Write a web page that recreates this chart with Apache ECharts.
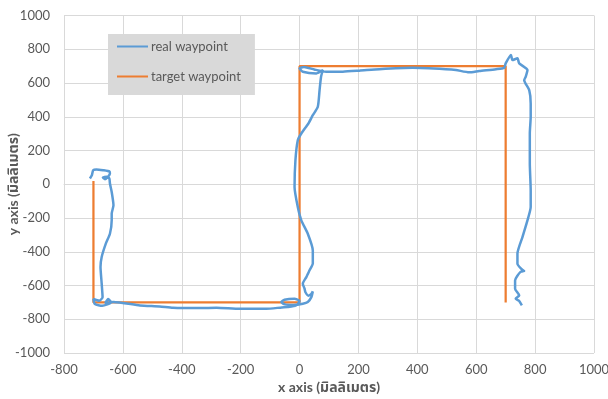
<!DOCTYPE html>
<html>
<head>
<meta charset="utf-8">
<script src="https://cdn.jsdelivr.net/npm/echarts@6/dist/echarts.min.js"></script>
<style>html,body{margin:0;padding:0;background:#fff}#c{width:608px;height:399px}</style>
</head>
<body>
<div id="c"></div>
<script>
const realX = [-712,-705,-701,-690,-667,-645,-644,-650,-661,-668,-655,-646,-644,-638,-632,-638,-638,-644,-658,-672,-676,-672,-669,-680,-700,-695,-670,-640,-650,-660,-632,-542,-475,-430,-339,-282,-203,-113,-60,-40,-11,0,-17,-51,-62,-50,-20,11,28,40,45,40,30,20,17,11,23,34,45,45,28,6,-6,-17,-14,-6,6,30,45,62,68,73,79,57,11,0,15,50,90,147,203,271,384,497,531,576,610,667,695,700,718,723,740,746,774,768,763,780,785,785,782,782,785,785,774,757,740,740,755,763,750,732,732,746,734,745,755];
const realY = [34,55,83,88,83,75,63,45,30,40,45,34,4,-46,-125,-174,-214,-293,-352,-431,-491,-589,-669,-690,-680,-710,-720,-700,-680,-705,-698,-718,-724,-732,-734,-732,-738,-738,-730,-728,-718,-692,-678,-684,-698,-712,-715,-708,-698,-669,-635,-650,-660,-640,-619,-589,-550,-510,-470,-392,-293,-214,-135,-16,142,261,301,360,409,459,558,637,677,657,667,687,695,680,667,667,673,682,690,682,677,663,671,682,690,716,766,736,746,716,677,637,617,558,479,400,301,123,-36,-135,-214,-313,-411,-471,-505,-514,-520,-570,-619,-659,-678,-690,-718];
const targetX = [-700,-700,0,0,700,700];
const targetY = [20,-700,-700,700,700,-700];
const xTicks = [-800,-600,-400,-200,0,200,400,600,800,1000];
const yTicks = [-1000,-800,-600,-400,-200,0,200,400,600,800,1000];

const pair = (xs, ys) => xs.map((x, i) => [x, ys[i]]);
const font = "Lato, 'Noto Sans', 'Noto Sans Thai', 'DejaVu Sans', sans-serif";
const grey = '#595959';
const chart = echarts.init(document.getElementById('c'), null, {renderer: 'canvas'});
chart.setOption({
  animation: false,
  backgroundColor: '#fff',
  textStyle: {fontFamily: font},
  grid: {left: 64, right: 14, top: 15.5, bottom: 46, containLabel: false, outerBoundsMode: 'none'},
  legend: {
    orient: 'vertical', left: 108, top: 34,
    backgroundColor: '#d9d9d9',
    padding: [6, 14, 12, 9],
    itemGap: 17, itemWidth: 31, itemHeight: 2, icon: 'rect',
    textStyle: {fontFamily: font, fontSize: 13, color: grey, padding: [0, 0, 0, -2]},
    data: ['real waypoint', 'target waypoint']
  },
  xAxis: {
    type: 'value', min: xTicks[0], max: xTicks[xTicks.length - 1], interval: 200,
    name: 'x axis (มิลลิเมตร)', nameLocation: 'middle', nameGap: 27, nameMoveOverlap: false,
    nameTextStyle: {fontFamily: font, fontSize: 14, fontWeight: 'bold', color: grey},
    axisLine: {show: true, lineStyle: {color: '#d9d9d9'}},
    axisTick: {show: false},
    axisLabel: {fontFamily: font, fontSize: 13, color: grey, margin: 10, formatter: v => String(v)},
    splitLine: {show: true, lineStyle: {color: '#d9d9d9', width: 1}}
  },
  yAxis: {
    type: 'value', min: yTicks[0], max: yTicks[yTicks.length - 1], interval: 200,
    name: 'y axis (มิลลิเมตร)', nameLocation: 'middle', nameGap: 44, nameMoveOverlap: false,
    nameTextStyle: {fontFamily: font, fontSize: 14, fontWeight: 'bold', color: grey},
    axisLine: {show: true, lineStyle: {color: '#d9d9d9'}},
    axisTick: {show: false},
    axisLabel: {fontFamily: font, fontSize: 13, color: grey, margin: 14, formatter: v => String(v)},
    splitLine: {show: true, lineStyle: {color: '#d9d9d9', width: 1}}
  },
  series: [
    {
      name: 'real waypoint', type: 'line', data: pair(realX, realY),
      showSymbol: false, smooth: 0.2, color: '#5B9BD5',
      lineStyle: {width: 2.5, color: '#5B9BD5'}, z: 3
    },
    {
      name: 'target waypoint', type: 'line', data: pair(targetX, targetY),
      showSymbol: false, color: '#ED7D31',
      lineStyle: {width: 2.25, color: '#ED7D31'}, z: 2
    }
  ]
});
</script>
</body>
</html>
